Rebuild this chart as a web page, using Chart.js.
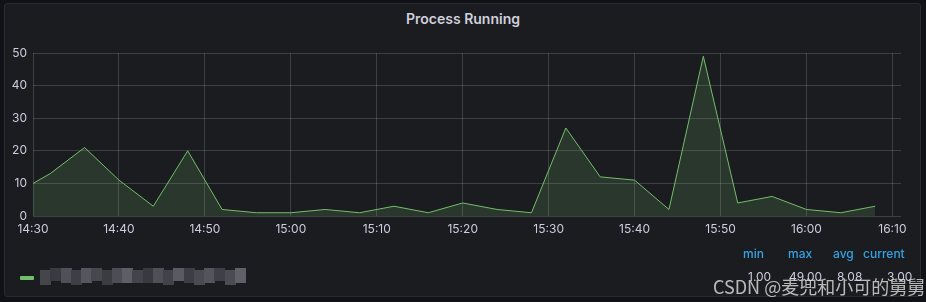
<!DOCTYPE html>
<html>
<head>
<meta charset="utf-8">
<script src="https://cdn.jsdelivr.net/npm/chart.js@4/dist/chart.umd.min.js"></script>
<style>
  html, body { margin:0; padding:0; background:#111217; width:926px; height:302px; overflow:hidden; font-family: Inter, "Noto Sans", sans-serif; }
  #panel { position:absolute; left:4px; top:3px; width:917px; height:294px; background:#1b1c20; border:1px solid #2a2b30; border-radius:3px; box-sizing:border-box; }
  #title { position:absolute; left:0; top:10px; width:926px; text-align:center; color:#d0d0dc; font-size:14px; font-weight:600; }
  #wrap { position:absolute; left:0; top:0; width:926px; height:302px; }
  .hdr { position:absolute; top:246px; color:#33a2e5; font-size:12px; font-weight:500; }
  .val { position:absolute; top:269px; color:#ccccdc; font-size:12px; }
  #legline { position:absolute; left:20px; top:276px; width:14px; height:4px; background:#73bf69; border-radius:1px; }
  #mosaic { position:absolute; left:40px; top:268px; }
  #mosaic div { position:absolute; }
  #wm { position:absolute; left:713px; top:273px; font-size:18px; color:rgba(230,230,230,0.78); font-family:"Noto Sans CJK SC", "Noto Sans", sans-serif; white-space:nowrap; }
</style>
</head>
<body>
<div id="panel"></div>
<div id="title">Process Running</div>
<div id="wrap"><canvas id="c" width="926" height="302"></canvas></div>
<div id="legline"></div>
<div id="mosaic"></div>
<div class="hdr" style="left:743px">min</div>
<div class="hdr" style="left:788px">max</div>
<div class="hdr" style="left:833px">avg</div>
<div class="hdr" style="left:863px">current</div>
<div class="val" style="left:748px">1.00</div>
<div class="val" style="left:789px">49.00</div>
<div class="val" style="left:837px">8.08</div>
<div class="val" style="left:887px">3.00</div>
<div id="wm">CSDN @麦兜和小可的舅舅</div>
<script>
// ---- data ----
const times = ['14:28','14:32','14:36','14:40','14:44','14:48','14:52','14:56','15:00','15:04','15:08','15:12','15:16','15:20','15:24','15:28','15:32','15:36','15:40','15:44','15:48','15:52','15:56','16:00','16:04','16:08'];
const values = [7,13,21,11,3,20,2,1,1,2,1,3,1,4,2,1,27,12,11,2,49,4,6,2,1,3];
const xTickLabels = ['14:30','14:40','14:50','15:00','15:10','15:20','15:30','15:40','15:50','16:00','16:10'];
const yTickValues = [0,10,20,30,40,50];
const seriesName = 'process';

// mosaic blocks standing in for the obscured legend name
const mosaicShades = ['#45464c','#3a3b40','#505158','#3e3f44','#56575e','#47484e','#3b3c41','#4d4e54','#5e5f66','#44454a','#393a3f','#4f5056','#42434a','#5a5b62','#3d3e43','#4a4b51','#54555c','#3f4045','#4b4c52','#606168'];
(function(){
  const m = document.getElementById('mosaic');
  const w = 205 / mosaicShades.length;
  mosaicShades.forEach((c,i)=>{
    const d = document.createElement('div');
    d.style.left = (i*w)+'px';
    d.style.top = (i%3===0?2:0)+'px';
    d.style.width = Math.ceil(w)+'px';
    d.style.height = (i%4===1?13:15)+'px';
    d.style.background = c;
    m.appendChild(d);
  });
})();

const toMin = t => { const [h,m] = t.split(':').map(Number); return (h*60+m) - (14*60+30); };
const points = times.map((t,i)=>({x: toMin(t), y: values[i]}));
const fmt = v => { const tot = 14*60+30+v; const h = Math.floor(tot/60), m = tot%60; return h+':'+String(m).padStart(2,'0'); };

new Chart(document.getElementById('c'), {
  type: 'line',
  data: { datasets: [{
    label: seriesName,
    data: points,
    borderColor: '#73bf69',
    backgroundColor: 'rgba(115,191,105,0.17)',
    borderWidth: 1,
    pointRadius: 0,
    fill: 'origin',
    tension: 0
  }]},
  options: {
    responsive: false,
    animation: false,
    devicePixelRatio: 1,
    layout: { padding: { left: 0, top: 53, right: 25, bottom: 66 } },
    plugins: { legend: { display:false }, tooltip: { enabled:false }, title: { display:false } },
    scales: {
      x: {
        type: 'linear',
        min: 0, max: 101,
        afterBuildTicks: s => { s.ticks = xTickLabels.map(l => ({ value: toMin(l) })); },
        ticks: { color:'#ccccdc', font:{ family:'Inter', size:12 }, padding:6, maxRotation:0, autoSkip:false,
                 callback: v => fmt(v) },
        grid: { color:'rgba(204,204,220,0.2)', drawTicks:false, lineWidth:1 },
        border: { display:false },
        afterFit: s => { s.height = 20; }
      },
      y: {
        min: 0, max: 50,
        afterBuildTicks: s => { s.ticks = yTickValues.map(v => ({ value: v })); },
        ticks: { color:'#ccccdc', font:{ family:'Inter', size:12 }, padding:6 },
        grid: { color:'rgba(204,204,220,0.2)', drawTicks:false, lineWidth:1 },
        border: { display:false },
        afterFit: s => { s.width = 33; }
      }
    }
  }
});
</script>
</body>
</html>
